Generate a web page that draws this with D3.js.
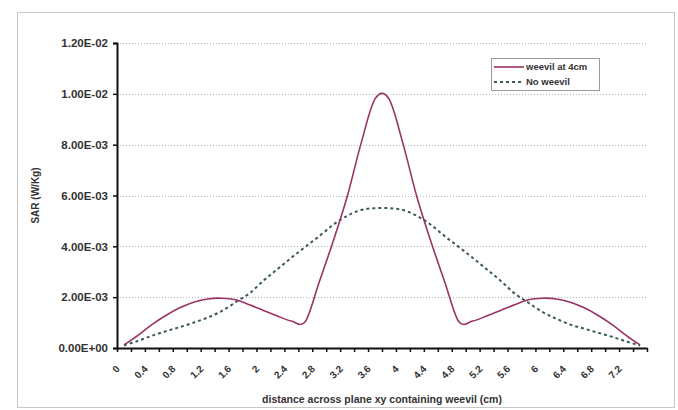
<!DOCTYPE html>
<html>
<head>
<meta charset="utf-8">
<script src="https://cdn.jsdelivr.net/npm/d3@7"></script>
<style>
  body { margin: 0; background: #fff; }
  text { font-family: Arial, "Liberation Sans", sans-serif; font-weight: bold; fill: #333; }
</style>
</head>
<body>
<svg id="chart" width="678" height="410"></svg>
<script>
// distance across plane (cm), one category per 0.2 cm
const categories = ['0', '0.2', '0.4', '0.6', '0.8', '1', '1.2', '1.4', '1.6', '1.8',
  '2', '2.2', '2.4', '2.6', '2.8', '3', '3.2', '3.4', '3.6', '3.8',
  '4', '4.2', '4.4', '4.6', '4.8', '5', '5.2', '5.4', '5.6', '5.8',
  '6', '6.2', '6.4', '6.6', '6.8', '7', '7.2', '7.4']

// SAR (W/Kg), weevil placed at 4cm
const weevil = [0.00012, 0.00050, 0.00092, 0.00128, 0.00158, 0.00180, 0.00193, 0.00196, 0.00190, 0.00170,
  0.00148, 0.00126, 0.00106, 0.00104, 0.00260, 0.00420, 0.00595, 0.00805, 0.00980, 0.00980,
  0.00805, 0.00595, 0.00420, 0.00260, 0.00104, 0.00106, 0.00126, 0.00148, 0.00170, 0.00190,
  0.00196, 0.00193, 0.00180, 0.00158, 0.00128, 0.00092, 0.00050, 0.00012]

// SAR (W/Kg), no weevil
const noWeevil = [0.00010, 0.00028, 0.00048, 0.00066, 0.00082, 0.00100, 0.00120, 0.00145, 0.00180, 0.00215,
  0.00265, 0.00310, 0.00355, 0.00398, 0.00440, 0.00485, 0.00520, 0.00543, 0.00550, 0.00550,
  0.00543, 0.00520, 0.00485, 0.00440, 0.00398, 0.00355, 0.00310, 0.00265, 0.00215, 0.00178,
  0.00142, 0.00115, 0.00092, 0.00076, 0.00060, 0.00044, 0.00026, 0.00010]

const yTicks = [0, 0.002, 0.004, 0.006, 0.008, 0.010, 0.012]

const seriesNames = ['weevil at 4cm', 'No weevil']

const svg = d3.select('#chart')
const plot = {left: 117, right: 647, top: 43, bottom: 348}

// outer chart frame
svg.append('rect')
  .attr('x', 17.5).attr('y', 12.5)
  .attr('width', 657).attr('height', 395)
  .attr('fill', '#fff')
  .attr('stroke', '#c8c8c8')

const x = d3.scaleLinear()
  .domain([-0.5, categories.length - 0.5])
  .range([plot.left, plot.right])

const y = d3.scaleLinear()
  .domain([0, 0.012])
  .range([plot.bottom, plot.top])

function sci(v) {
  if (v === 0) return '0.00E+00'
  const e = Math.floor(Math.log10(v) + 1e-9)
  const m = v / Math.pow(10, e)
  return m.toFixed(2) + 'E' + (e < 0 ? '-' : '+') + String(Math.abs(e)).padStart(2, '0')
}

// gridlines
svg.append('g')
  .selectAll('line')
  .data(yTicks.filter(d => d > 0))
  .enter()
  .append('line')
  .attr('x1', plot.left).attr('x2', plot.right)
  .attr('y1', d => Math.round(y(d)) + 0.5).attr('y2', d => Math.round(y(d)) + 0.5)
  .attr('stroke', '#b4b4b4')
  .attr('stroke-dasharray', '1,2')

// y axis
const yAxis = svg.append('g')
  .attr('transform', `translate(${plot.left},0)`)
  .call(d3.axisLeft(y).tickValues(yTicks).tickSize(4).tickPadding(5).tickFormat(sci))
yAxis.select('.domain').attr('stroke', '#111').attr('stroke-width', 2)
yAxis.selectAll('.tick line').attr('stroke', '#111').attr('stroke-width', 1.5)
yAxis.selectAll('.tick text')
  .style('font-size', '11.5px')
  .style('font-family', 'Arial, "Liberation Sans", sans-serif')
  .style('font-weight', 'bold')
  .attr('fill', '#333')

// x axis, tick marks between categories
const xAxis = svg.append('g')
  .attr('transform', `translate(0,${plot.bottom})`)
  .call(d3.axisBottom(x)
    .tickValues(d3.range(categories.length + 1).map(i => i - 0.5))
    .tickSize(4)
    .tickSizeOuter(0)
    .tickFormat(''))
xAxis.select('.domain').attr('stroke', '#111').attr('stroke-width', 2)
xAxis.selectAll('.tick line').attr('stroke', '#111').attr('stroke-width', 1.5)

// category labels, every second one
svg.append('g')
  .selectAll('text')
  .data(categories.map((c, i) => ({c, i})).filter(d => d.i % 2 === 0))
  .enter()
  .append('text')
  .attr('transform', d => `translate(${x(d.i) - 6},${plot.bottom + 19}) rotate(-45)`)
  .attr('text-anchor', 'end')
  .attr('dy', '0.35em')
  .style('font-size', '10px')
  .text(d => d.c)

// axis titles
svg.append('text')
  .attr('transform', `translate(35,${(plot.top + plot.bottom) / 2}) rotate(-90)`)
  .attr('text-anchor', 'middle')
  .attr('dy', '0.35em')
  .style('font-size', '10px')
  .text('SAR (W/Kg)')

svg.append('text')
  .attr('x', (plot.left + plot.right) / 2)
  .attr('y', 403)
  .attr('text-anchor', 'middle')
  .style('font-size', '10.5px')
  .text('distance across plane xy containing weevil (cm)')

// series
const line = d3.line()
  .x((d, i) => x(i))
  .y(d => y(d))
  .curve(d3.curveCardinal.tension(0))

svg.append('path')
  .datum(noWeevil)
  .attr('d', line)
  .attr('fill', 'none')
  .attr('stroke', '#3b5959')
  .attr('stroke-width', 2)
  .attr('stroke-dasharray', '3,3')

svg.append('path')
  .datum(weevil)
  .attr('d', line)
  .attr('fill', 'none')
  .attr('stroke', '#993366')
  .attr('stroke-width', 1.6)

// legend
const legend = svg.append('g').attr('transform', 'translate(491,58)')
legend.append('rect')
  .attr('x', 0.5).attr('y', 0.5)
  .attr('width', 108).attr('height', 32)
  .attr('fill', '#fff')
  .attr('stroke', '#9a9a9a')

const legendStyles = [
  {stroke: '#993366', width: 1.6, dash: null},
  {stroke: '#3b5959', width: 2, dash: '3,3'}
]
seriesNames.forEach((name, i) => {
  const row = legend.append('g').attr('transform', `translate(0,${9 + i * 15})`)
  row.append('line')
    .attr('x1', 3).attr('x2', 33)
    .attr('stroke', legendStyles[i].stroke)
    .attr('stroke-width', legendStyles[i].width)
    .attr('stroke-dasharray', legendStyles[i].dash)
  row.append('text')
    .attr('x', 35)
    .attr('dy', '0.35em')
    .style('font-size', '9.5px')
    .text(name)
})
</script>
</body>
</html>
